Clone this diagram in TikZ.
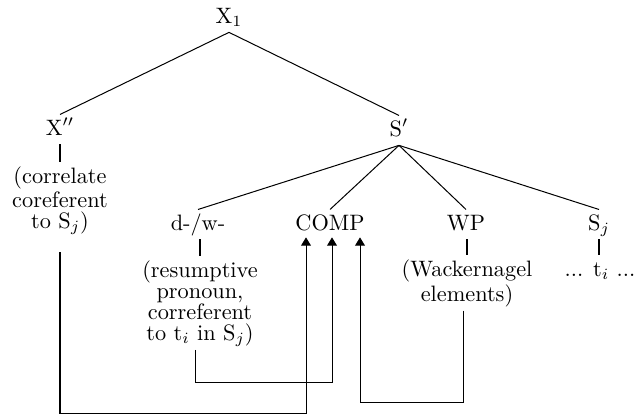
\documentclass[tikz,border=0pt]{standalone}
\usetikzlibrary{arrows.meta,calc}
\begin{document}
% one unit = one pixel of the 636 x 418 canvas; y grows downwards
\begin{tikzpicture}[x=0.4484pt,y=-0.4484pt,
  lab/.style={inner sep=2pt,text height=7pt,text depth=2pt,anchor=base},
  note/.style={inner sep=2pt,align=center,anchor=north,
    font=\fontsize{10}{9.4}\selectfont},
  branch/.style={line width=0.45pt},
  bar/.style={line width=1.2pt},
  link/.style={line width=0.45pt,-{Triangle[length=3.7pt,width=4.4pt]}}]
\useasboundingbox (0,0) rectangle (636,418);

% category labels
\node[lab] (x1)   at (229,23)  {X$_1$};
\node[lab] (xpp)  at (60,135)  {X$''$};
\node[lab] (sp)   at (399,136) {S$'$};
\node[lab] (dw)   at (198,230) {d-/w-};
\node[lab] (comp) at (330,230) {COMP};
\node[lab] (wp)   at (466,230) {WP};
\node[lab] (sj)   at (599,230) {S$_j$};

% glosses under the labels
\node[note] (corr) at (60,162)  {(correlate\\coreferent\\to S$_j$)};
\node[note] (res)  at (200,256) {(resumptive\\pronoun,\\correferent\\to t$_i$ in S$_j$)};
\node[note] (wack) at (467,255) {(Wackernagel\\elements)};
\node[lab]  (tr)   at (600,276) {... t$_i$ ...};

% tree branches
\draw[branch] (x1.south) -- (xpp.north);
\draw[branch] (x1.south) -- (sp.north);
\draw[branch] (sp.south) -- (dw.north);
\draw[branch] (sp.south) -- (comp.north);
\draw[branch] (sp.south) -- (wp.north);
\draw[branch] (sp.south) -- (sj.north);

% short stems to the glosses
\draw[bar] (xpp.south -| corr.north) -- (corr.north);
\draw[bar] (dw.south -| res.north) -- (res.north);
\draw[bar] (wp.south -| wack.north) -- (wack.north);
\draw[bar] (sj.south) -- (sj.south |- tr.north);

% movement paths into COMP
\coordinate (tipA) at ($(comp.south)+(-24,-2)$);
\coordinate (tipB) at ($(comp.south)+(2,-2)$);
\coordinate (tipC) at ($(comp.south)+(30,-2)$);
\coordinate (lowA) at (0,413);
\coordinate (lowB) at (0,382);
\coordinate (lowC) at (0,402);
\coordinate (srcA) at ($(corr.south)+(0,13)$);
\coordinate (srcB) at ($(res.south)+(-5,-2)$);
\coordinate (srcC) at ($(wack.south)+(-4,-1)$);

\draw[link] (srcA) -- (srcA |- lowA) -| (tipA);
\draw[link] (srcB) -- (srcB |- lowB) -| (tipB);
\draw[link] (srcC) -- (srcC |- lowC) -| (tipC);
\end{tikzpicture}
\end{document}
